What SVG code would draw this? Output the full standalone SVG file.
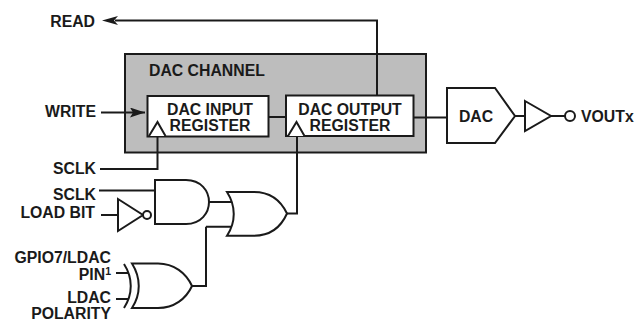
<svg xmlns="http://www.w3.org/2000/svg" width="636" height="327" viewBox="0 0 636 327">
<style>
text{font-family:"Liberation Sans",Arial,sans-serif;font-weight:700;font-size:15.800px;fill:#1a1a1a}
.e{text-anchor:end}.m{text-anchor:middle}
.s{fill:none;stroke:#1a1a1a;stroke-width:2}
.w{fill:#fff;stroke:#1a1a1a;stroke-width:2}
</style>
<defs><marker id="a" markerUnits="userSpaceOnUse" markerWidth="16" markerHeight="10" refX="15" refY="5" orient="auto"><path d="M0 0L15 5L0 10L3 5Z" fill="#1a1a1a"/></marker></defs>
<rect width="636" height="327" fill="#fff"/>
<g id="channel"><rect x="125" y="54" width="301" height="98.500" fill="#bdbdbd" stroke="#1a1a1a" stroke-width="2"/><text x="149" y="76">DAC CHANNEL</text></g>
<g id="connectors">
<path class="s" d="M377 95V20.500H115" />
<path d="M118 16L102 20.500L118 25L114 20.500Z" fill="#1a1a1a"/>
<path class="s" d="M101 112.500H145" marker-end="url(#a)"/>
<path class="s" d="M268 117H286M413 117.500H447"/>
<path class="s" d="M100 169H157.500V137M99 190.500H155M101 215H118M209 202H232M287 213.500H297V137M206 226.700H231M206 226.700V286H192M116 273H128M116 299H128M515 116H525M551 116H565"/>
</g>
<g id="input-register"><rect class="w" x="147.500" y="96" width="121" height="40.500"/><path class="w" d="M149 136L157.500 122L165.500 136"/><text class="m" x="210" y="115">DAC INPUT</text><text class="m" x="210" y="131">REGISTER</text></g>
<g id="output-register"><rect class="w" x="286" y="95.500" width="127.500" height="40.500"/><path class="w" d="M288 136L296.500 122L304.500 136"/><text class="m" x="350" y="115">DAC OUTPUT</text><text class="m" x="350" y="131">REGISTER</text></g>
<g id="dac"><path class="w" d="M447 88H495L515 116L495 143H447Z"/><text class="m" x="476" y="122">DAC</text></g>
<g id="buffer"><path class="w" d="M525 101L551 116L525 131Z"/><circle class="w" cx="570" cy="116" r="5"/><text x="581" y="122">VOUTx</text></g>
<g id="and"><path class="w" d="M155 180H186C201 180 209 191 209 202C209 213 201 224 186 224H155Z"/></g>
<g id="not"><path class="w" d="M118 199L143 215L118 231Z"/><circle class="w" cx="147" cy="215" r="4"/></g>
<g id="or"><path class="w" d="M227 192H254C270 192 281 201 287 213.500C281 227 270 235.700 254 235.700H227C236 222 236 206 227 192Z"/></g>
<g id="xor"><path class="w" d="M132 263.500H158C174 263.500 186 273 192 286C186 299 174 308 158 308H132C141 294 141 278 132 263.500Z"/><path class="s" d="M124 264C133 278 133 294 124 308"/></g>
<g id="labels">
<text class="e" x="95" y="27">READ</text>
<text class="e" x="96" y="117">WRITE</text>
<text class="e" x="96" y="174">SCLK</text>
<text class="e" x="96" y="199.500">SCLK</text>
<text class="e" x="95" y="217.500">LOAD BIT</text>
<text class="e" x="111" y="263">GPIO7/LDAC</text>
<text class="e" x="111" y="280">PIN<tspan font-size="10.500" dy="-5">1</tspan></text>
<text class="e" x="111" y="303">LDAC</text>
<text class="e" x="111" y="319">POLARITY</text>
</g>
</svg>
